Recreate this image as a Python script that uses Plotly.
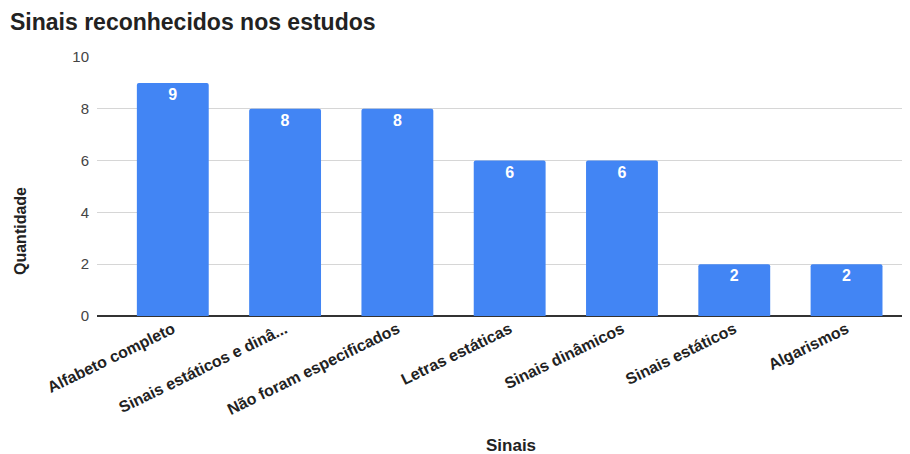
import plotly.graph_objects as go

categories = ["Alfabeto completo", "Sinais estáticos e dinâ...", "Não foram especificados",
              "Letras estáticas", "Sinais dinâmicos", "Sinais estáticos", "Algarismos"]
values = [9, 8, 8, 6, 6, 2, 2]
y_ticks = [0, 2, 4, 6, 8, 10]

FONT = "Arial, Liberation Sans, sans-serif"

# page has an 8px body margin; compensate so the figure lands on window pixels
OFF = 8
W, H = 910 - OFF, 454 - OFF
L, T, R, B = 97 - OFF, 57 - OFF, 0, 454 - 316

fig = go.Figure(go.Bar(
    x=categories, y=values,
    marker=dict(color="#4285f4", line=dict(width=0)),
    text=[str(v) for v in values],
    textposition="inside", insidetextanchor="end",
    textfont=dict(family=FONT, size=16, color="white", weight="bold"),
    textangle=0,
))

pw = W - L - R
ph = H - T - B

def px_x(x):
    return (x - OFF - L) / pw

def px_y(y):
    return (H - (y - OFF) - B) / ph

fig.update_layout(
    width=W, height=H,
    margin=dict(l=L, r=R, t=T, b=B, pad=0),
    plot_bgcolor="white", paper_bgcolor="white",
    bargap=0.36, barcornerradius=2,
    showlegend=False,
    font=dict(family=FONT),
    title=dict(text="<b>Sinais reconhecidos nos estudos</b>", xref="container", yref="container",
               x=(10 - OFF) / W, xanchor="left", y=1 - (22 - OFF) / H, yanchor="middle",
               font=dict(size=23, color="#222", family=FONT)),
    xaxis=dict(range=[-0.675, 6.565], tickangle=-26, showgrid=False, ticks="",
               tickfont=dict(size=16, color="#222", weight="bold"), showline=False, zeroline=False),
    yaxis=dict(range=[0, 10], tickvals=y_ticks, showgrid=True, gridcolor="#d6d6d6", gridwidth=1,
               zeroline=True, zerolinecolor="#333", zerolinewidth=1.5,
               ticks="", tickfont=dict(size=15, color="#444"), ticklabelstandoff=7),
    annotations=[
        dict(text="<b>Quantidade</b>", x=px_x(20), xref="paper", y=px_y(231), yref="paper", textangle=-90,
             showarrow=False, font=dict(size=16, color="#222"), xanchor="center", yanchor="middle"),
        dict(text="<b>Sinais</b>", x=px_x(511), xref="paper", y=px_y(445), yref="paper", showarrow=False,
             font=dict(size=17, color="#222"), xanchor="center", yanchor="middle"),
    ],
)

fig.write_html("out.html")
